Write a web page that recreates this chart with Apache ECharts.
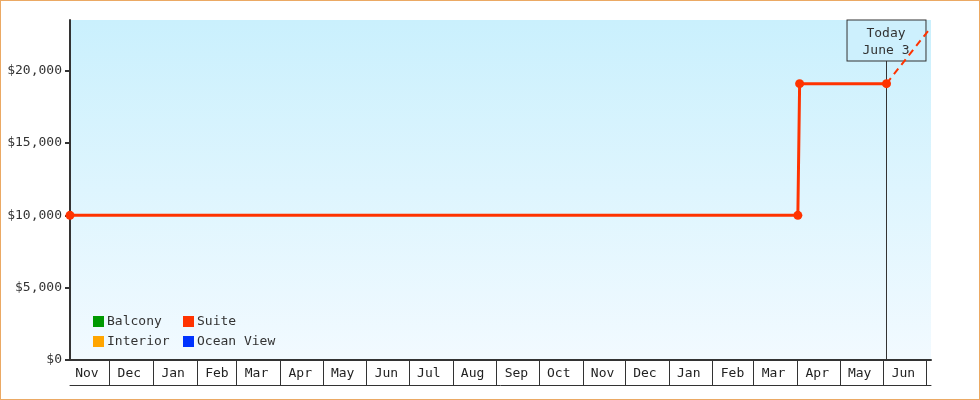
<!DOCTYPE html>
<html><head><meta charset="utf-8">
<script src="https://cdn.jsdelivr.net/npm/echarts@6/dist/echarts.min.js"></script>
<style>
html,body{margin:0;padding:0;background:#fff;}
#wrap{position:relative;width:980px;height:400px;}
#chart{width:980px;height:400px;}
#frame{position:absolute;left:0;top:0;width:980px;height:400px;box-sizing:border-box;border:1px solid #eba964;pointer-events:none;}
</style></head><body>
<div id="wrap"><div id="chart"></div><div id="frame"></div></div>
<script>
// ---- data ----
const legendCol1 = ['Balcony', 'Interior'];
const legendCol2 = ['Suite', 'Ocean View'];
const seriesColors = { 'Balcony': '#009900', 'Interior': '#ffa500', 'Suite': '#ff3300', 'Ocean View': '#0033ff' };
const monthLabels = ['Nov','Dec','Jan','Feb','Mar','Apr','May','Jun','Jul','Aug','Sep','Oct','Nov','Dec','Jan','Feb','Mar','Apr','May','Jun'];
const firstMonth = [2010, 10]; // November 2010 (month index 10)
const xRange = ['2010-11-03', '2012-07-04 12:00'];
const suitePrices = [
  ['2010-11-03', 10000],
  ['2012-04-01 06:00', 10000],
  ['2012-04-02 12:00', 19100],
  ['2012-06-03', 19100]
];
const suiteProjection = [
  ['2012-06-03', 19100],
  ['2012-07-04 12:00', 23000]
];
const today = '2012-06-03';
const todayLabel = 'Today\nJune 3';
const yTicks = [0, 5000, 10000, 15000, 20000];
const yMax = 23500;

// ---- helpers ----
function ts(s) {
  const m = s.match(/(\d+)-(\d+)-(\d+)(?: (\d+):(\d+))?/);
  return new Date(+m[1], +m[2] - 1, +m[3], +(m[4] || 0), +(m[5] || 0)).getTime();
}
const monthStartTicks = monthLabels.map((_, i) => new Date(firstMonth[0], firstMonth[1] + i + 1, 1).getTime());
const monthMidLabels = monthLabels.map((_, i) => new Date(firstMonth[0], firstMonth[1] + i, 15).getTime());
function money(v) { return '$' + String(v).replace(/\B(?=(\d{3})+(?!\d))/g, ','); }

const mono = 'DejaVu Sans Mono';
const chart = echarts.init(document.getElementById('chart'), null, { renderer: 'canvas' });

const legendBase = {
  orient: 'vertical', padding: 0, itemWidth: 11, itemHeight: 11, itemGap: 7, icon: 'rect',
  textStyle: { fontFamily: mono, fontSize: 13, color: '#333', lineHeight: 11, padding: [0, 0, 0, -2] },
  selectedMode: false
};

const emptySeries = ['Balcony', 'Interior', 'Ocean View'].map(n => ({
  name: n, type: 'line', data: [], color: seriesColors[n]
}));

const xMin = ts(xRange[0]), xMax = ts(xRange[1]);

chart.setOption({
  animation: false,
  grid: {
    left: 70, right: 49, top: 20, bottom: 40, show: true, borderWidth: 0,
    backgroundColor: new echarts.graphic.LinearGradient(0, 0, 0, 1, [
      { offset: 0, color: '#caf0fd' }, { offset: 1, color: '#f2faff' }
    ])
  },
  legend: [
    Object.assign({}, legendBase, { data: legendCol1, left: 93, top: 315 }),
    Object.assign({}, legendBase, { data: legendCol2, left: 183, top: 315 })
  ],
  xAxis: [{
    type: 'value', min: xMin, max: xMax, scale: true,
    axisLine: { show: true, lineStyle: { color: '#333', width: 2 } },
    axisTick: { show: true, customValues: monthStartTicks, length: 25, lineStyle: { color: '#333', width: 1 } },
    axisLabel: {
      show: true, customValues: monthMidLabels, margin: 7,
      fontFamily: mono, fontSize: 13, color: '#222',
      formatter: (v) => monthLabels[monthMidLabels.indexOf(v)]
    },
    splitLine: { show: false }
  }, {
    type: 'value', min: xMin, max: xMax, scale: true, position: 'bottom', offset: 25,
    axisLine: { show: true, lineStyle: { color: '#333', width: 1 } },
    axisTick: { show: false }, axisLabel: { show: false }, splitLine: { show: false }
  }],
  yAxis: {
    type: 'value', min: 0, max: yMax,
    axisLine: { show: true, lineStyle: { color: '#333', width: 2 } },
    axisTick: { show: true, customValues: yTicks, length: 5, lineStyle: { color: '#333', width: 2 } },
    axisLabel: { customValues: yTicks, margin: 8, fontFamily: mono, fontSize: 13, color: '#333', formatter: money },
    splitLine: { show: false }
  },
  series: emptySeries.concat([
    {
      name: 'Suite', type: 'line', z: 3, color: seriesColors['Suite'],
      data: suitePrices.map(d => [ts(d[0]), d[1]]),
      symbol: 'circle', symbolSize: 9, showSymbol: true,
      lineStyle: { width: 3, color: seriesColors['Suite'] },
      itemStyle: { color: seriesColors['Suite'] }
    },
    {
      name: 'Suite', type: 'line', z: 3, color: seriesColors['Suite'],
      data: suiteProjection.map(d => [ts(d[0]), d[1]]),
      symbol: 'none', showSymbol: false,
      lineStyle: { width: 2, type: [7, 5], color: seriesColors['Suite'] }
    },
    {
      name: 'todayMarker', type: 'line', data: [], z: 1, silent: true,
      markLine: {
        z: 1, silent: true, symbol: ['none', 'none'], animation: false,
        lineStyle: { color: '#333', width: 1, type: 'solid' },
        label: { show: false },
        data: [{ xAxis: ts(today) }]
      },
      markPoint: {
        z: 2, silent: true, symbol: 'rect', symbolSize: 1, animation: false,
        itemStyle: { color: 'rgba(0,0,0,0)' },
        label: {
          show: true, position: 'bottom', distance: 0, formatter: todayLabel,
          backgroundColor: '#cdf0fd', borderColor: '#333', borderWidth: 1,
          padding: [5, 16, 1, 15], fontFamily: mono, fontSize: 13, lineHeight: 17,
          color: '#333', align: 'center'
        },
        data: [{ coord: [ts(today), yMax] }]
      }
    }
  ])
});
</script>
</body></html>
